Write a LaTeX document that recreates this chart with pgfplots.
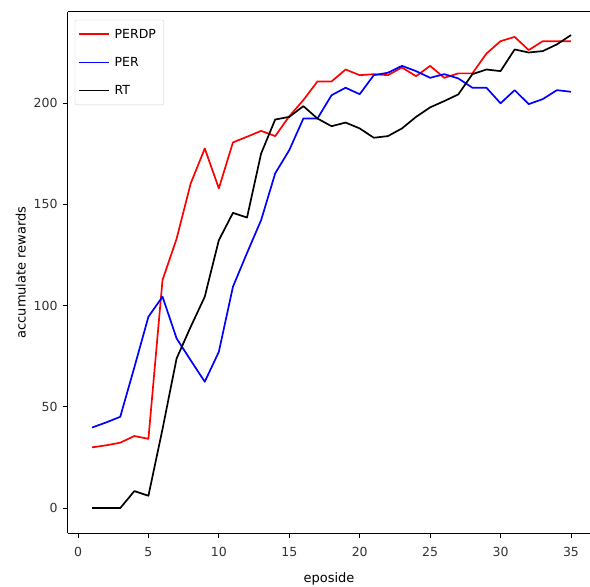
\documentclass[border=0pt]{standalone}
\usepackage{fontspec}
\setmainfont{DejaVu Sans}
\usepackage{pgfplots}
\pgfplotsset{compat=1.18}

\begin{document}
\begin{tikzpicture}
\path[use as bounding box] (-68pt,-54pt) rectangle (522pt,533pt);
\begin{axis}[
  at={(0,0)}, anchor=south west,
  scale only axis, width=522pt, height=521pt,
  xmin=-0.71, xmax=36.35, ymin=-12.3, ymax=245,
  axis x line=box, axis y line*=left,
  xtick={0,5,...,35}, ytick={0,50,...,200},
  xtick pos=bottom, ytick pos=left,
  tick align=outside, major tick length=5pt,
  tick style={black, line width=0.8pt},
  axis line style={line width=1pt},
  /pgf/number format/assume math mode=true,
  ticklabel style={font=\fontsize{12.5}{14}\selectfont, text=black!80},
  xticklabel style={yshift=-6pt},
  yticklabel style={xshift=-2pt},
  xlabel={eposide}, ylabel={accumulate rewards},
  label style={font=\fontsize{13}{15}\selectfont},
  xlabel style={yshift=-9pt},
  ylabel style={yshift=1pt},
  legend style={at={(axis description cs:0.013,0.985)}, anchor=north west,
    font=\fontsize{12.5}{14}\selectfont, draw=black!18, rounded corners=2pt,
    row sep=13.5pt, inner xsep=3pt, inner ysep=7pt,
    nodes={inner xsep=5pt}},
  legend cell align=left,
]
\addlegendimage{red, line width=1.8pt, xscale=1.75}
\addlegendentry{PERDP}
\addlegendimage{blue, line width=1.8pt, xscale=1.75}
\addlegendentry{PER}
\addlegendimage{black, line width=1.8pt, xscale=1.75}
\addlegendentry{RT}
\addplot[red, line width=1.7pt, line join=round, forget plot] coordinates {
(1,30) (2,31) (3,32.3) (4,35.6) (5,34.2) (6,112.6) (7,133) (8,160.3) (9,177.6) (10,157.9)
(11,180.6) (12,183.4) (13,186.3) (14,183.7) (15,193.5) (16,201.5) (17,210.7) (18,210.7) (19,216.6) (20,213.8)
(21,214.3) (22,213.8) (23,217.6) (24,213.3) (25,218.4) (26,212.5) (27,214.7) (28,214.7) (29,224.5) (30,230.6)
(31,232.7) (32,226.2) (33,230.6) (34,230.6) (35,230.6)};
\addplot[blue, line width=1.7pt, line join=round, forget plot] coordinates {
(1,39.8) (2,42.3) (3,45.1) (4,69.5) (5,94.5) (6,104.4) (7,83.8) (8,73) (9,62.4) (10,77.2)
(11,109.3) (12,126) (13,142.2) (14,165.3) (15,176.8) (16,192.4) (17,192.4) (18,203.9) (19,207.6) (20,204.4)
(21,213.8) (22,215) (23,218.4) (24,215.8) (25,212.5) (26,214.3) (27,212.2) (28,207.6) (29,207.6) (30,199.9)
(31,206.4) (32,199.5) (33,202) (34,206.4) (35,205.6)};
\addplot[black, line width=1.7pt, line join=round, forget plot] coordinates {
(1,0) (2,0) (3,0) (4,8.4) (5,6.1) (6,39) (7,73.9) (8,89.5) (9,104.4) (10,132.3)
(11,145.8) (12,143.5) (13,175.1) (14,191.9) (15,193.2) (16,198.5) (17,192.4) (18,188.6) (19,190.4) (20,187.5)
(21,182.9) (22,183.7) (23,187.5) (24,193.2) (25,197.9) (26,201) (27,204.3) (28,214.3) (29,216.6) (30,215.8)
(31,226.5) (32,225) (33,225.7) (34,229) (35,233.6)};
\end{axis}
\end{tikzpicture}
\end{document}
